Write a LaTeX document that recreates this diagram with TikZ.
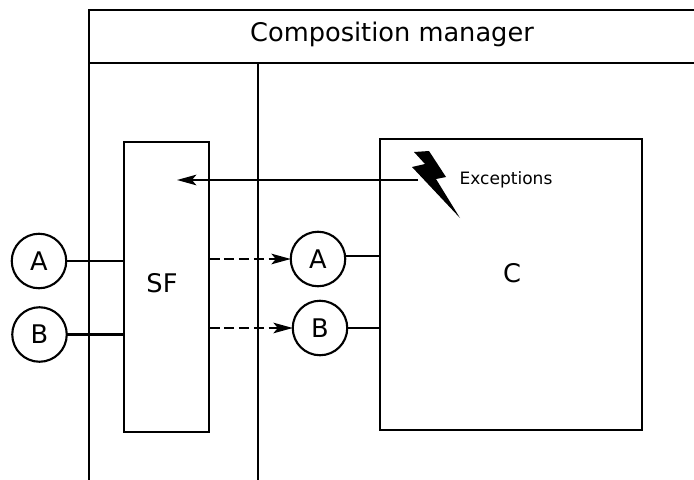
\documentclass[tikz,border=0pt]{standalone}
\usepackage{fontspec}
\setmainfont{DejaVu Sans}
\usetikzlibrary{calc,arrows.meta}

\begin{document}
\begin{tikzpicture}[
    x=0.02cm, y=-0.02cm,
    line width=1.2pt,
    blockbox/.style = {
        draw,
        outer sep=0pt,
        fill=white
    },
    bigtext/.style = {
        font=\fontsize{14.6}{16}\selectfont
    },
    portnode/.style = {
        draw,
        circle,
        minimum size=1.09cm,
        inner sep=0pt,
        outer sep=0pt,
        bigtext
    },
    flowarrow/.style = {
        -{Stealth[length=11pt,width=6pt,inset=2.5pt]},
        line width=1.1pt
    }
]
\useasboundingbox (0,0) rectangle (694,480);

% --- Composition manager ---
\coordinate (frameTop) at (89,10);
\coordinate (frameHead) at (89,63);
\coordinate (frameBottom) at (89,480);
\coordinate (frameTopEnd) at (694,10);
\coordinate (frameHeadEnd) at (694,63);
\coordinate (dividerTop) at (258,62);
\coordinate (dividerBottom) at (258,480);
\node[bigtext] (managerTitle) at (392,34) {Composition manager};

\draw (frameBottom) -- (frameTop) -- (frameTopEnd);
\draw (frameHead) -- (frameHeadEnd);
\draw (dividerTop) -- (dividerBottom);

% --- Blocks ---
\node[blockbox, minimum width=1.7cm, minimum height=5.8cm] (sfBlock) at (166.5,287) {};
\node[bigtext] (sfLabel) at (162,283) {SF};
\node[blockbox, minimum width=5.24cm, minimum height=5.82cm] (cBlock) at (511,284.5) {};
\node[bigtext] (cLabel) at (512,273) {C};

% --- Ports ---
\node[portnode] (inA) at (39,261) {A};
\node[portnode] (inB) at (39.5,334.5) {B};
\node[portnode] (outA) at (318,259) {A};
\node[portnode] (outB) at (320,328) {B};

% --- Connections ---
\draw (inA) -- (inA -| sfBlock.west);
\draw (inB) -- (inB -| sfBlock.west);
\draw (outA.6) -- (outA.6 -| cBlock.west);
\draw (outB) -- (outB -| cBlock.west);

\draw[flowarrow, dash pattern=on 6pt off 2.5pt] (outA -| sfBlock.east) -- (outA.west);
\draw[flowarrow, dash pattern=on 6pt off 2.5pt] (outB -| sfBlock.east) -- (outB.west);

% --- Exceptions ---
\coordinate (raiseStart) at (418,180);
\coordinate (raiseEnd) at (177,180);
\draw[flowarrow] (raiseStart) -- (raiseEnd);
\fill (414,152) -- (429,151) -- (446,177) -- (436,179) -- (460,218)
    -- (412,167) -- (425,164) -- cycle;
\node[font=\fontsize{9.7}{11}\selectfont] (exceptionsLabel) at (506,180) {Exceptions};

\end{tikzpicture}
\end{document}
